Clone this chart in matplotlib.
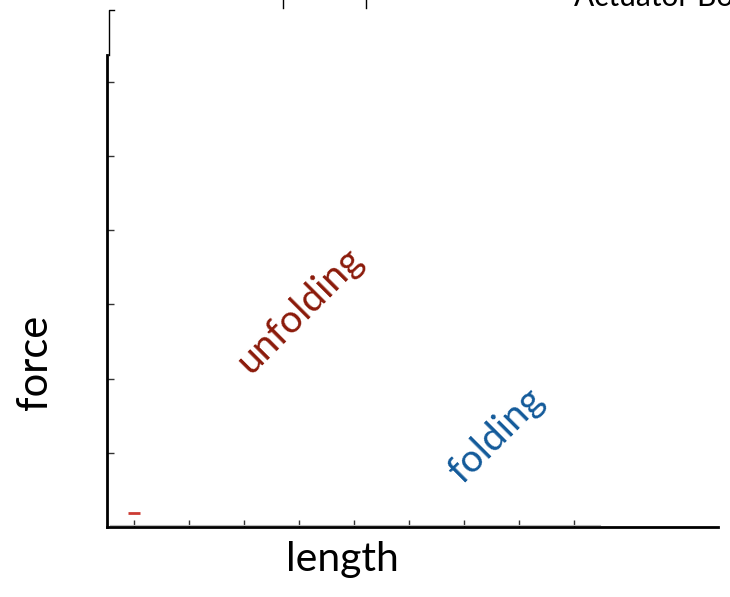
import matplotlib.pyplot as plt
import matplotlib.lines as mlines
import numpy as np

plt.rcParams['font.family'] = ['Lato', 'DejaVu Sans']

# data
x_ticks = np.arange(9) + 0.5
y_ticks = [1, 2, 3, 4, 5, 6]
marker_x = [0.5]
marker_y = [0.19]
base_x = [0.05, 8.98]
base_y = [0.03, 0.03]

W, H = 730, 597
fig = plt.figure(figsize=(W / 100, H / 100), dpi=100)
ax = fig.add_axes([107 / W, 1 - 527 / H, 611 / W, 472 / H])
ax.set_xlim(0, 11.13)
ax.set_ylim(0, 6.36)

ax.plot(base_x, base_y, color='#bbbbbb', lw=0.8, clip_on=False)
ax.plot(marker_x, marker_y, marker='_', color='#cc3b33', markersize=8, mew=2, ls='none')

ax.set_xticks(x_ticks)
ax.set_yticks(y_ticks)
ax.set_xticklabels([])
ax.set_yticklabels([])
ax.tick_params(direction='in', length=5, width=1, color='#333333')
for s in ['top', 'right']:
    ax.spines[s].set_visible(False)
ax.spines['left'].set_linewidth(2)
ax.spines['bottom'].set_linewidth(2)


def px(x, y):
    return x / W, 1 - y / H


# extra line bits at the top
for xs, ys in [([109, 109, 114], [55, 10, 10]), ([283, 283], [0, 8]), ([366, 366], [0, 8])]:
    fx = [px(a, b)[0] for a, b in zip(xs, ys)]
    fy = [px(a, b)[1] for a, b in zip(xs, ys)]
    fig.add_artist(mlines.Line2D(fx, fy, color='black', lw=1))

fig.text(*px(574, 6), 'Actuator Bo', fontsize=21.5, va='baseline', ha='left')

fig.text(*px(342, 560), 'length', fontsize=29.5, ha='center', va='center')
fig.text(*px(35, 362), 'force', fontsize=30, ha='center', va='center', rotation=90)
fig.text(*px(300, 310), 'unfolding', fontsize=28, color='#8b1a0a',
         ha='center', va='center', rotation=45, rotation_mode='anchor')
fig.text(*px(496, 436), 'folding', fontsize=28, color='#135a9a',
         ha='center', va='center', rotation=45, rotation_mode='anchor')

fig.savefig('out.png', dpi=100)
